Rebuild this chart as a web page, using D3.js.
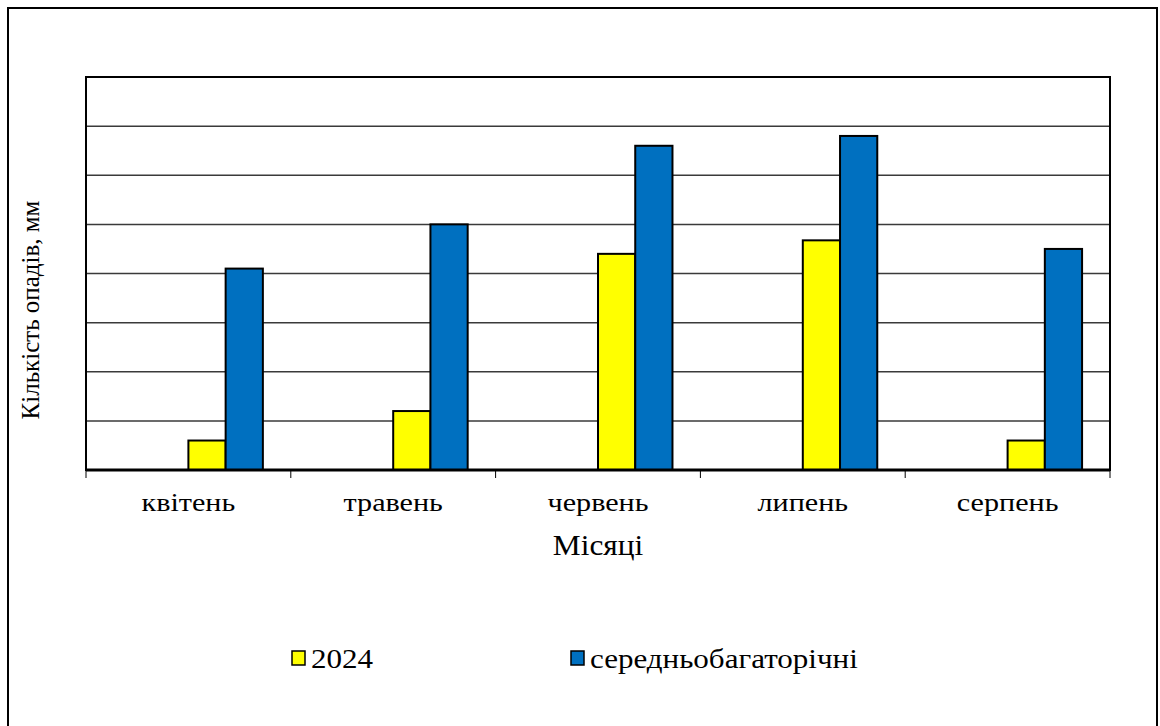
<!DOCTYPE html>
<html><head><meta charset="utf-8">
<script src="https://cdn.jsdelivr.net/npm/d3@7"></script>
<style>body{margin:0;background:#fff}svg{display:block}</style>
</head><body><svg id="c" width="1160" height="726"></svg>
<script>
const months = ["квітень","травень","червень","липень","серпень"];
const seriesNames = ["2024","середньобагаторічні"];
const values2024 = [12, 24, 88, 93.5, 12];
const valuesAvg = [82, 100, 132, 136, 90];
const seriesColors = ["#FFFF00","#0070C0"];
const yTicks = [0,20,40,60,80,100,120,140,160];

const FONT = "Liberation Serif";
const svg = d3.select("#c");
const M = {l:86, r:1110, t:77, b:470};

svg.append("rect").attr("x",8).attr("y",8).attr("width",1149).attr("height",730)
  .attr("fill","#fff").attr("stroke","#000").attr("stroke-width",2);

const x0 = d3.scaleBand().domain(months).range([M.l,M.r]).padding(0);
const bw = x0.bandwidth();
const barW = bw/5.5;
const x1 = d3.scaleBand().domain(seriesNames).range([bw/2, bw/2+2*barW]).padding(0);
const y = d3.scaleLinear().domain([0,160]).range([M.b,M.t]);

svg.append("g").selectAll("line").data(yTicks.slice(1,-1)).join("line")
  .attr("x1",M.l).attr("x2",M.r).attr("y1",d=>y(d)).attr("y2",d=>y(d))
  .attr("stroke","#3a3a3a").attr("stroke-width",1.5);

const data = months.map((m,i)=>({m, vals:[values2024[i], valuesAvg[i]]}));
const g = svg.append("g").selectAll("g").data(data).join("g")
  .attr("transform",d=>`translate(${x0(d.m)},0)`);
g.selectAll("rect").data(d=>d.vals.map((v,j)=>({k:seriesNames[j],v,j}))).join("rect")
  .attr("x",d=>x1(d.k)).attr("width",x1.bandwidth())
  .attr("y",d=>y(d.v)).attr("height",d=>y(0)-y(d.v))
  .attr("fill",d=>seriesColors[d.j]).attr("stroke","#000").attr("stroke-width",2);

svg.append("rect").attr("x",M.l).attr("y",M.t).attr("width",M.r-M.l).attr("height",M.b-M.t)
  .attr("fill","none").attr("stroke","#000").attr("stroke-width",2);
svg.append("line").attr("x1",M.l).attr("x2",M.r).attr("y1",M.b).attr("y2",M.b)
  .attr("stroke","#000").attr("stroke-width",3);

const xAxis = svg.append("g").attr("transform",`translate(0,${M.b})`)
  .call(d3.axisBottom(x0).tickSize(0).tickPadding(0))
  .attr("font-family",FONT).attr("font-size",26);
xAxis.select(".domain").remove();
xAxis.selectAll("text").attr("y",0).attr("dy",null)
  .attr("transform","translate(0,41) scale(1.16,1)")
  .attr("font-family",FONT).attr("font-size",26).attr("fill","#000");
const bounds = months.map(m=>x0(m)).concat([M.r]);
svg.append("g").selectAll("line").data(bounds).join("line")
  .attr("x1",d=>d).attr("x2",d=>d).attr("y1",M.b).attr("y2",M.b+8)
  .attr("stroke","#000").attr("stroke-width",1);

svg.append("text").attr("transform","translate(598,555) scale(1.08,1)").attr("text-anchor","middle")
  .attr("font-family",FONT).attr("font-size",29).text("Місяці");
svg.append("text").attr("transform",`translate(39,310) rotate(-90)`).attr("text-anchor","middle")
  .attr("font-family",FONT).attr("font-size",25).text("Кількість опадів, мм");

const legX = [292, 571];
const lg = svg.append("g").selectAll("g").data(seriesNames).join("g")
  .attr("transform",(d,i)=>`translate(${legX[i]},651)`);
lg.append("rect").attr("width",13).attr("height",14)
  .attr("fill",(d,i)=>seriesColors[i]).attr("stroke","#000").attr("stroke-width",1.5);
lg.append("text").attr("transform","translate(19,17) scale(1.15,1)")
  .attr("font-family",FONT).attr("font-size",27).text(d=>d);
</script></body></html>
